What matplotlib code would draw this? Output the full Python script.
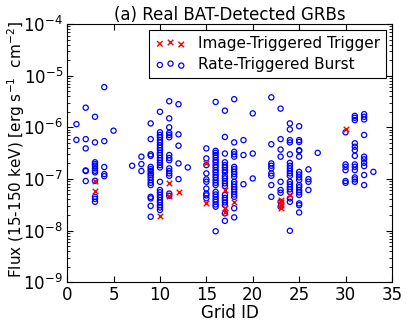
import matplotlib
matplotlib.use("Agg")
import matplotlib.pyplot as plt

# rate-triggered bursts: grid id -> flux values (erg s^-1 cm^-2)
rate_ids = [1, 2, 3, 4, 5, 7, 8, 9, 10, 11, 12, 13, 15, 16, 17, 18, 19, 20,
            22, 23, 24, 25, 26, 27, 30, 31, 32, 33]
rate_flux = [
    [1.15e-6, 5.7e-7],
    [2.4e-6, 5.9e-7, 3.9e-7, 1.46e-7, 1.42e-7, 9.1e-8],
    [1.6e-6, 5.1e-7, 2.1e-7, 1.94e-7, 1.8e-7, 1.6e-7, 1.44e-7, 1.34e-7, 9.2e-8,
     4.5e-8, 4.1e-8, 3.6e-8],
    [6.0e-6, 5.4e-7, 1.7e-7, 1.24e-7, 1.13e-7],
    [8.6e-7],
    [1.8e-7],
    [2.7e-7, 1.94e-7, 1.42e-7],
    [1.19e-6, 5.9e-7, 3.0e-7, 2.8e-7, 1.71e-7, 1.55e-7, 1.42e-7, 1.28e-7, 1.19e-7,
     1.07e-7, 9.5e-8, 8.4e-8, 7.6e-8, 4.5e-8, 4.2e-8, 3.0e-8, 1.85e-8],
    [2.0e-6, 8.0e-7, 7.1e-7, 6.4e-7, 5.65e-7, 5.1e-7, 4.5e-7, 4.0e-7, 3.6e-7,
     3.2e-7, 2.9e-7, 2.55e-7, 2.3e-7, 2.05e-7, 1.85e-7, 1.67e-7, 8.8e-8, 6.1e-8,
     5.5e-8, 4.9e-8, 4.4e-8, 3.9e-8, 3.5e-8, 3.1e-8, 2.8e-8, 2.5e-8],
    [3.2e-6, 1.49e-6, 1.0e-6, 7.8e-7, 7.1e-7, 6.4e-7, 2.9e-7, 2.55e-7, 2.3e-7,
     1.6e-7, 1.42e-7, 1.28e-7, 1.15e-7, 5.2e-8, 4.7e-8],
    [2.8e-6, 7.3e-7, 4.4e-7, 2.0e-7, 9.9e-8],
    [1.67e-7],
    [3.9e-7, 2.5e-7, 1.85e-7, 1.28e-7, 9.8e-8, 8.8e-8, 6.5e-8, 5.2e-8, 4.8e-8, 4.2e-8],
    [3.1e-6, 3.5e-7, 3.2e-7, 2.9e-7, 2.6e-7, 2.3e-7, 2.1e-7, 1.85e-7, 1.67e-7,
     1.48e-7, 1.34e-7, 1.19e-7, 1.07e-7, 9.5e-8, 8.4e-8, 7.6e-8, 5.6e-8, 5.0e-8,
     4.5e-8, 4.0e-8, 3.6e-8, 3.2e-8, 2.9e-8, 9.7e-9],
    [2.1e-6, 6.5e-7, 3.1e-7, 2.1e-7, 1.85e-7, 1.67e-7, 1.48e-7, 1.34e-7, 1.13e-7,
     1.02e-7, 9.1e-8, 8.2e-8, 7.3e-8, 4.9e-8, 4.3e-8, 3.9e-8, 3.5e-8, 3.1e-8,
     2.15e-8, 1.54e-8],
    [3.5e-6, 5.1e-7, 3.35e-7, 3.0e-7, 2.7e-7, 1.71e-7, 1.55e-7, 1.37e-7, 1.24e-7,
     1.1e-7, 8.8e-8, 7.9e-8, 7.0e-8, 6.3e-8, 5.6e-8, 5.0e-8, 4.5e-8, 2.7e-8, 1.8e-8],
    [5.65e-7, 2.9e-7, 7.9e-8],
    [1.86e-6, 3.1e-7, 1.02e-7],
    [3.8e-6, 4.7e-7, 2.0e-7, 1.8e-7, 1.6e-7, 1.28e-7, 1.15e-7, 7.6e-8, 4.5e-8],
    [2.3e-6, 5.9e-7, 3.7e-7, 2.7e-7, 8.8e-8, 6.1e-8, 5.4e-8, 3.6e-8, 2.9e-8],
    [1.19e-6, 9.1e-7, 5.65e-7, 5.1e-7, 3.0e-7, 2.05e-7, 1.8e-7, 1.6e-7, 1.42e-7,
     1.28e-7, 1.15e-7, 8.8e-8, 7.9e-8, 7.0e-8, 6.3e-8, 5.6e-8, 4.2e-8, 3.6e-8, 9.9e-9],
    [1.05e-6, 5.65e-7, 5.2e-7, 3.6e-7, 3.5e-7, 2.7e-7, 1.37e-7, 1.22e-7, 1.07e-7,
     9.5e-8, 7.6e-8, 6.9e-8, 6.1e-8, 5.5e-8, 4.9e-8, 3.35e-8, 3.1e-8, 2.24e-8],
    [1.53e-7, 9.9e-8, 8.8e-8, 6.1e-8],
    [3.2e-7],
    [8.0e-7, 1.91e-7, 1.71e-7, 1.48e-7, 9.1e-8, 8.4e-8],
    [1.67e-6, 1.53e-6, 1.38e-6, 4.9e-7, 4.2e-7, 3.6e-7, 2.8e-7, 1.91e-7, 1.71e-7,
     1.48e-7, 1.07e-7, 9.8e-8, 8.8e-8],
    [1.8e-6, 1.6e-6, 1.42e-6, 7.1e-7, 2.7e-7, 2.4e-7, 2.05e-7, 1.77e-7, 1.19e-7, 7.6e-8],
    [1.37e-7],
]

# image-triggered triggers
image_ids = [3, 10, 11, 12, 15, 17, 18, 23, 24, 30]
image_flux = [
    [9.2e-8, 5.9e-8],
    [1.9e-8],
    [8.2e-8, 4.7e-8],
    [5.6e-8],
    [2.0e-7, 3.35e-8],
    [6.1e-8, 2.7e-8, 2.3e-8],
    [3.6e-8],
    [3.9e-8, 3.5e-8, 3.1e-8, 2.75e-8],
    [4.9e-8],
    [9.1e-7],
]


def flatten(ids, fluxes):
    xs, ys = [], []
    for g, vals in zip(ids, fluxes):
        for v in vals:
            xs.append(g)
            ys.append(v)
    return xs, ys


rx, ry = flatten(rate_ids, rate_flux)
ix, iy = flatten(image_ids, image_flux)

plt.rcParams["font.family"] = "DejaVu Sans"
plt.rcParams["xtick.direction"] = "in"
plt.rcParams["ytick.direction"] = "in"
plt.rcParams["xtick.top"] = True
plt.rcParams["ytick.right"] = True

fig = plt.figure(figsize=(4.07, 3.21), dpi=100, facecolor="white")
ax = fig.add_axes([0.165, 0.121, 0.798, 0.804])

ax.scatter(ix, iy, marker="x", color="r", s=16, lw=1.0,
           label="Image-Triggered Trigger", zorder=3)
ax.scatter(rx, ry, marker="o", facecolors="none", edgecolors="b", s=14, lw=0.9,
           label="Rate-Triggered Burst", zorder=2)

ax.set_yscale("log")
ax.set_xlim(0, 35)
ax.set_ylim(1e-9, 1e-4)
ax.set_xticks(range(0, 36, 5))
ax.tick_params(labelsize=12, length=4, pad=3)
ax.tick_params(which="minor", length=2)
ax.set_xlabel("Grid ID", fontsize=12, labelpad=0)
ax.set_ylabel(r"Flux (15-150 keV) [erg s$^{-1}$  cm$^{-2}$]", fontsize=11)
ax.yaxis.set_label_coords(-0.125, 0.515)
ax.set_title("(a) Real BAT-Detected GRBs", fontsize=12, pad=3)

leg = ax.legend(loc="upper right", scatterpoints=3, fontsize=11, fancybox=False,
                framealpha=1, edgecolor="black", borderaxespad=0.37,
                handlelength=2.0, handletextpad=0.8, borderpad=0.4,
                labelspacing=0.4)
leg.get_frame().set_linewidth(0.8)

fig.savefig("out.png", dpi=100, facecolor="white")
